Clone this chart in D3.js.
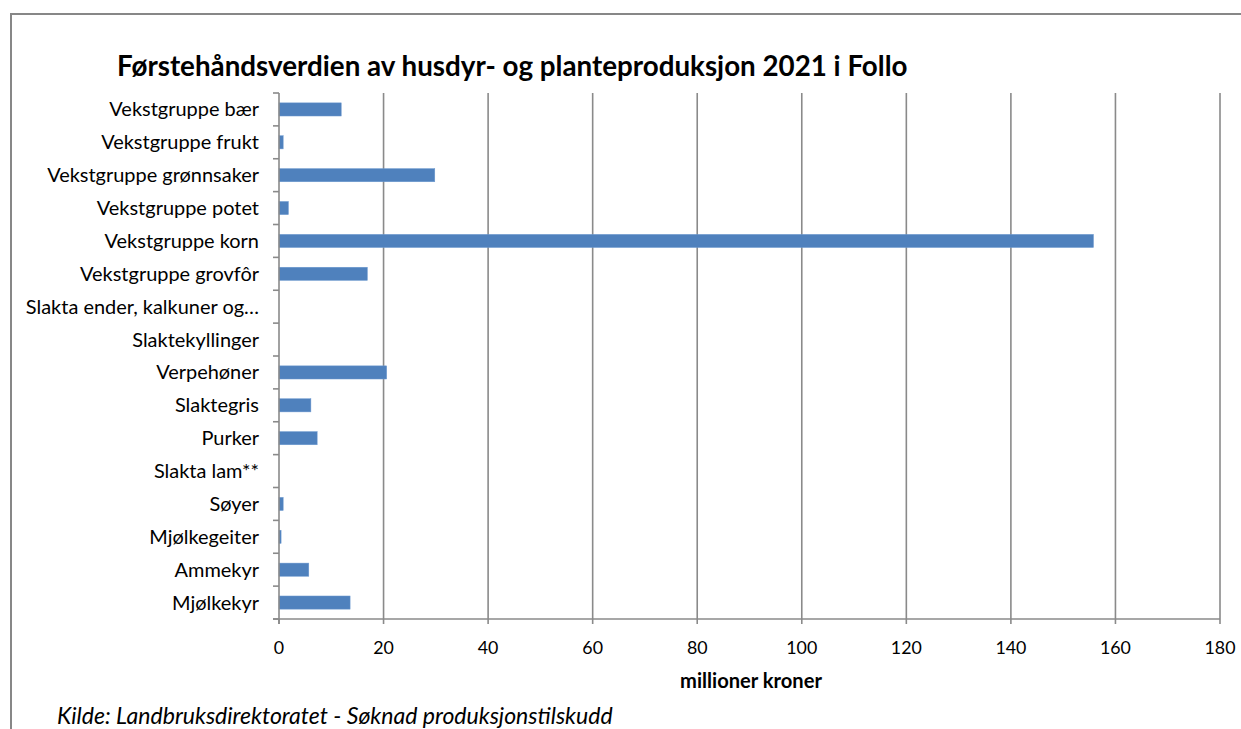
<!DOCTYPE html>
<html><head><meta charset="utf-8">
<script src="https://cdn.jsdelivr.net/npm/d3@7"></script>
<style>
body{margin:0;background:#fff;}
svg{display:block;}
text{font-family:Lato, "Open Sans", sans-serif;fill:#000;}
</style></head>
<body><svg id="c" width="1241" height="729"></svg>
<script>
const categories = ["Vekstgruppe bær","Vekstgruppe frukt","Vekstgruppe grønnsaker","Vekstgruppe potet","Vekstgruppe korn","Vekstgruppe grovfôr","Slakta ender, kalkuner og…","Slaktekyllinger","Verpehøner","Slaktegris","Purker","Slakta lam**","Søyer","Mjølkegeiter","Ammekyr","Mjølkekyr"];
const values = [11.9,0.8,29.8,1.8,155.8,16.9,0,0,20.6,6.1,7.3,0,0.8,0.4,5.7,13.6];
const xTicks = [0,20,40,60,80,100,120,140,160,180];
const title = "Førstehåndsverdien av husdyr- og planteproduksjon 2021 i Follo";
const xLabel = "millioner kroner";
const source = "Kilde: Landbruksdirektoratet - Søknad produksjonstilskudd";

const svg = d3.select("#c");
const L=279, R=1220, T=93, B=619;
const x = d3.scaleLinear().domain([0,180]).range([L,R]);
const y = d3.scaleBand().domain(categories).range([T,B]).paddingInner(0.6).paddingOuter(0.3);

// font size that makes a string a given width
function fit(str, width, weight, style){
  const m = svg.append("text").attr("font-size",100).attr("font-weight",weight||"normal")
    .attr("font-style",style||"normal").text(str);
  const w = m.node().getComputedTextLength(); m.remove();
  return 100*width/w;
}
const labelSize = fit("Vekstgruppe grønnsaker", 212);
const tickSize = fit("100", 31);
const xlabSize = fit(xLabel, 142, "bold");
const titleSize = fit(title, 791, "bold");
const srcSize = fit(source, 556, "normal", "italic");

// frame
svg.append("rect").attr("x",11).attr("y",14).attr("width",1240).attr("height",730)
  .attr("fill","none").attr("stroke","#878787").attr("stroke-width",2);

// gridlines
svg.append("g").selectAll("line").data(xTicks.filter(d=>d>0)).join("line")
  .attr("x1",d=>x(d)).attr("x2",d=>x(d)).attr("y1",T).attr("y2",B)
  .attr("stroke","#8a8a8a").attr("stroke-width",1.6);

// bars
svg.append("g").selectAll("rect").data(values).join("rect")
  .attr("x",x(0)).attr("y",(d,i)=>y(categories[i]))
  .attr("width",d=>x(d)-x(0)).attr("height",y.bandwidth())
  .attr("fill","#4f81bd").attr("stroke","#6e9ad0").attr("stroke-width",0.5);

// y axis
const step = y.step();
const bounds = d3.range(categories.length+1).map(i=>T+i*step);
svg.append("line").attr("x1",L).attr("x2",L).attr("y1",T).attr("y2",B+5)
  .attr("stroke","#8a8a8a").attr("stroke-width",1.6);
svg.append("g").selectAll("line").data(bounds).join("line")
  .attr("x1",L-6).attr("x2",L).attr("y1",d=>d).attr("y2",d=>d)
  .attr("stroke","#8a8a8a").attr("stroke-width",1.6);
svg.append("g").selectAll("text").data(categories).join("text")
  .attr("x",259).attr("y",d=>y(d)+y.bandwidth()/2).attr("dy","0.35em")
  .attr("text-anchor","end").attr("font-size",labelSize).text(d=>d);

// x axis
svg.append("line").attr("x1",L-6).attr("x2",R).attr("y1",B).attr("y2",B)
  .attr("stroke","#8a8a8a").attr("stroke-width",1.6);
svg.append("g").selectAll("line").data(xTicks).join("line")
  .attr("x1",d=>x(d)).attr("x2",d=>x(d)).attr("y1",B).attr("y2",B+5)
  .attr("stroke","#8a8a8a").attr("stroke-width",1.6);
svg.append("g").selectAll("text").data(xTicks).join("text")
  .attr("x",d=>x(d)).attr("y",648).attr("dy","0.35em")
  .attr("text-anchor","middle").attr("font-size",tickSize).text(d=>d);

svg.append("text").attr("x",751).attr("y",681).attr("dy","0.35em").attr("text-anchor","middle")
  .attr("font-size",xlabSize).attr("font-weight","bold").text(xLabel);

svg.append("text").attr("x",117).attr("y",76).attr("font-size",titleSize).attr("font-weight","bold").text(title);
svg.append("text").attr("x",57).attr("y",716).attr("dy","0.35em").attr("font-size",srcSize)
  .attr("font-style","italic").text(source);
</script></body></html>
